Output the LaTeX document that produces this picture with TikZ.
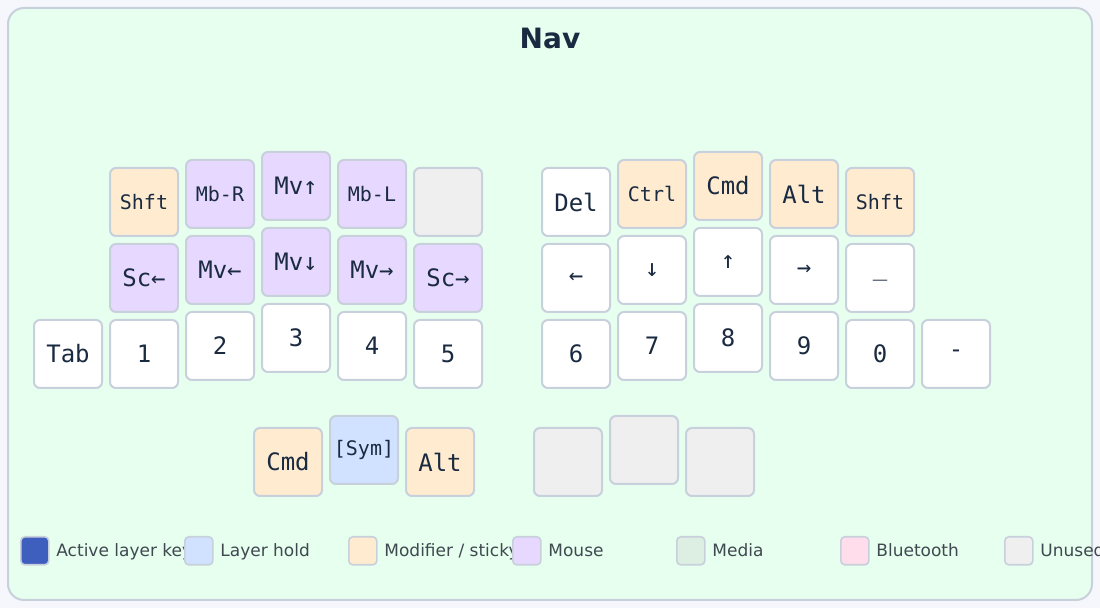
\documentclass[tikz,border=0pt]{standalone}
\usepackage{fontspec}
\setmainfont{DejaVu Sans}
\setmonofont{DejaVu Sans Mono}
\definecolor{pagebg}{HTML}{F5F7FC}
\definecolor{panelbg}{HTML}{E6FFEF}
\definecolor{edge}{HTML}{C8D0DC}
\definecolor{ink}{HTML}{1A2A40}
\definecolor{legendink}{HTML}{404850}
\definecolor{modfill}{HTML}{FFEBD0}
\definecolor{mousefill}{HTML}{E6D8FF}
\definecolor{holdfill}{HTML}{D0E2FF}
\definecolor{unusedfill}{HTML}{EFEFEF}
\definecolor{activefill}{HTML}{3F5FBF}
\definecolor{mediafill}{HTML}{DDEFE2}
\definecolor{btfill}{HTML}{FFDDEB}
\tikzset{
  key/.style={draw=edge, line width=1pt, rounded corners=3pt, fill=white,
    minimum width=34pt, minimum height=34pt, inner sep=0pt, text=ink,
    font=\ttfamily\fontsize{12}{12}\selectfont},
  small/.style={font=\ttfamily\fontsize{10}{10}\selectfont},
  mod/.style={key, fill=modfill},
  mouse/.style={key, fill=mousefill},
  hold/.style={key, fill=holdfill},
  unused/.style={key, fill=unusedfill},
  swatch/.style={draw=edge, line width=0.8pt, rounded corners=2pt,
    minimum size=14pt, inner sep=0pt, anchor=north west},
  legtext/.style={anchor=base west, text=legendink, inner sep=0pt,
    font=\fontsize{8.5}{8.5}\selectfont}
}
\begin{document}
\begin{tikzpicture}[x=0.5pt, y=-0.5pt]
\useasboundingbox (0,0) rectangle (1100,608);
\fill[pagebg] (0,0) rectangle (1100,608);
\draw[edge, fill=panelbg, line width=1pt, rounded corners=8pt] (8,8) rectangle (1092,600);
\node[text=ink, font=\bfseries\fontsize{14}{14}\selectfont] (title) at (550,38) {Nav};

% left half
\node[mod, small] (lshft) at (144,202) {Shft};
\node[mouse, small] (mbr) at (220,194) {Mb-R};
\node[mouse] (mvup) at (296,186) {Mv↑};
\node[mouse, small] (mbl) at (372,194) {Mb-L};
\node[unused] (lempty) at (448,202) {};
\node[mouse] (scl) at (144,278) {Sc←};
\node[mouse] (mvl) at (220,270) {Mv←};
\node[mouse] (mvdn) at (296,262) {Mv↓};
\node[mouse] (mvr) at (372,270) {Mv→};
\node[mouse] (scr) at (448,278) {Sc→};
\node[key] (tab) at (68,354) {Tab};
\node[key] (one) at (144,354) {1};
\node[key] (two) at (220,346) {2};
\node[key] (three) at (296,338) {3};
\node[key] (four) at (372,346) {4};
\node[key] (five) at (448,354) {5};

% right half
\node[key] (del) at (576,202) {Del};
\node[mod, small] (ctrl) at (652,194) {Ctrl};
\node[mod] (rcmd) at (728,186) {Cmd};
\node[mod] (ralt) at (804,194) {Alt};
\node[mod, small] (rshft) at (880,202) {Shft};
\node[key] (left) at (576,278) {←};
\node[key] (down) at (652,270) {↓};
\node[key] (up) at (728,262) {↑};
\node[key] (right) at (804,270) {→};
\node[key] (under) at (880,278) {\_};
\node[key] (six) at (576,354) {6};
\node[key] (seven) at (652,346) {7};
\node[key] (eight) at (728,338) {8};
\node[key] (nine) at (804,346) {9};
\node[key] (zero) at (880,354) {0};
\node[key] (minus) at (956,354) {-};

% thumbs
\node[mod] (lcmd) at (288,462) {Cmd};
\node[hold, small] (sym) at (364,450) {[Sym]};
\node[mod] (lalt) at (440,462) {Alt};
\node[unused] (tha) at (568,462) {};
\node[unused] (thb) at (644,450) {};
\node[unused] (thc) at (720,462) {};

% legend
\node[swatch, fill=activefill] (sw1) at (20,536) {};
\node[legtext] (lg1) at (56,557) {Active layer key};
\node[swatch, fill=holdfill] (sw2) at (184,536) {};
\node[legtext] (lg2) at (220,557) {Layer hold};
\node[swatch, fill=modfill] (sw3) at (348,536) {};
\node[legtext] (lg3) at (384,557) {Modifier / sticky};
\node[swatch, fill=mousefill] (sw4) at (512,536) {};
\node[legtext] (lg4) at (548,557) {Mouse};
\node[swatch, fill=mediafill] (sw5) at (676,536) {};
\node[legtext] (lg5) at (712,557) {Media};
\node[swatch, fill=btfill] (sw6) at (840,536) {};
\node[legtext] (lg6) at (876,557) {Bluetooth};
\node[swatch, fill=unusedfill] (sw7) at (1004,536) {};
\node[legtext] (lg7) at (1040,557) {Unused};
\end{tikzpicture}
\end{document}
